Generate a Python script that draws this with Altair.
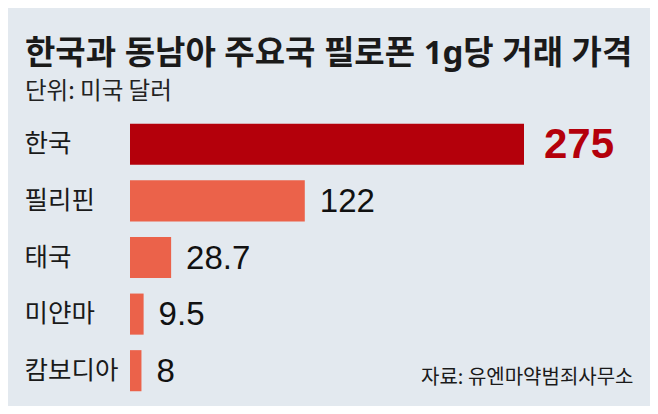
import altair as alt
import pandas as pd

countries = ["한국", "필리핀", "태국", "미얀마", "캄보디아"]
prices = [275, 122, 28.7, 9.5, 8]
labels = ["275", "122", "28.7", "9.5", "8"]

title_text = "한국과 동남아 주요국 필로폰 1g당 거래 가격"
subtitle_text = "단위: 미국 달러"
source_text = "자료: 유엔마약범죄사무소"

BG = "#e3e9ef"
DARK_RED = "#b4000b"
CORAL = "#eb624a"
KFONT = "Noto Sans CJK KR"
TFONT = "Noto Sans, Noto Sans CJK KR"

df = pd.DataFrame({"country": countries, "price": prices, "label": labels})

y_enc = alt.Y(
    "country:N",
    sort=countries,
    scale=alt.Scale(paddingInner=0.274, paddingOuter=0.137),
    axis=alt.Axis(
        title=None, domain=False, ticks=False, tickSize=0, grid=False,
        labelAlign="left", labelPadding=106, labelFont=KFONT,
        labelFontSize=25.5, labelColor="#1a1a1a", labelBaseline="middle",
    ),
)
x_enc = alt.X(
    "price:Q",
    scale=alt.Scale(domain=[0, 275], nice=False, zero=True),
    axis=alt.Axis(
        domain=False, ticks=False, labels=False, grid=False,
        title=source_text, titleFont=KFONT, titleFontSize=20,
        titleFontWeight="normal", titleColor="#1a1a1a",
        titleAlign="right", titleBaseline="middle", titleX=503, titleY=-22,
    ),
)

base = alt.Chart(df)

bars = base.mark_bar().encode(
    x=x_enc,
    y=y_enc,
    color=alt.condition(alt.datum.country == "한국", alt.value(DARK_RED), alt.value(CORAL)),
)

txt_korea = base.transform_filter(alt.datum.country == "한국").mark_text(
    align="left", baseline="middle", dx=20, dy=1,
    font="Liberation Sans", fontWeight="bold", fontSize=42, color=DARK_RED,
).encode(x="price:Q", y=alt.Y("country:N", sort=countries), text="label:N")

txt_other = base.transform_filter(alt.datum.country != "한국").mark_text(
    align="left", baseline="middle", dx=15, dy=1,
    font="Liberation Sans", fontSize=33, color="#111111",
).encode(x="price:Q", y=alt.Y("country:N", sort=countries), text="label:N")

chart = (
    alt.layer(bars, txt_korea, txt_other)
    .properties(
        width=394,
        height=283,
        padding={"left": 122, "top": 108, "right": 126, "bottom": 7},
        autosize=alt.AutoSizeParams(type="none"),
        background=BG,
        title=alt.TitleParams(
            text=title_text,
            subtitle=subtitle_text,
            anchor="start",
            frame="group",
            dx=-105,
            offset=13,
            font=TFONT,
            fontSize=33,
            fontWeight="bold",
            color="#1a1a1a",
            subtitleFont=KFONT,
            subtitleFontSize=23.5,
            subtitleColor="#222222",
            subtitlePadding=9,
        ),
    )
    .configure_view(stroke=None)
)

chart.save("out.html", embed_options={"renderer": "svg", "actions": False})
